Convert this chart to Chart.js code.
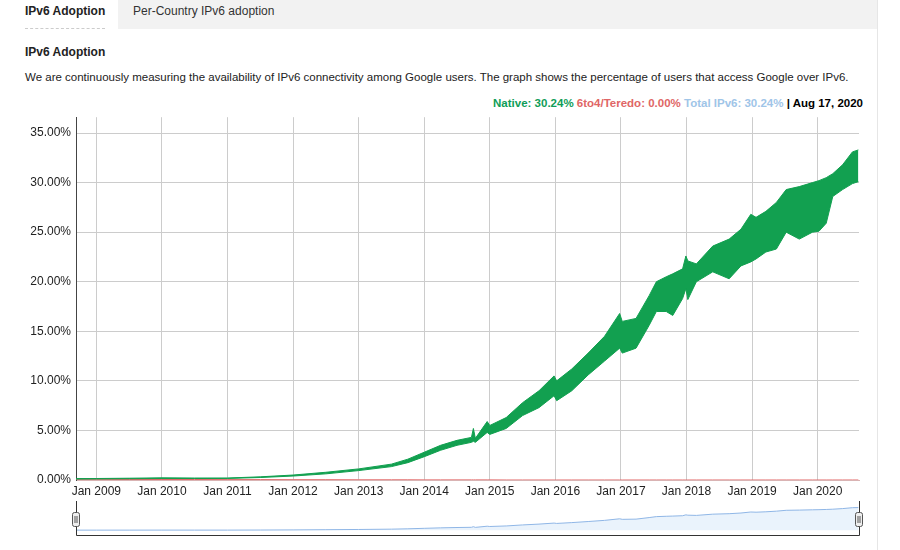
<!DOCTYPE html>
<html>
<head>
<meta charset="utf-8">
<title>IPv6 Adoption</title>
<script src="https://cdn.jsdelivr.net/npm/chart.js@4.4.1/dist/chart.umd.min.js"></script>
<style>
  body { margin: 0; background: #fff; font-family: "Liberation Sans", Arial, sans-serif; color: #333; }
  #page { position: relative; width: 900px; height: 550px; overflow: hidden; }
  #tabs { position: absolute; left: 0; top: 0; width: 877px; height: 29px; }
  #tabs .gray { position: absolute; left: 118px; top: 0; width: 759px; height: 29px; background: #f2f2f2; }
  .tab { position: absolute; top: 3px; font-size: 12px; line-height: 16px; }
  #tab1 { left: 25px; font-weight: bold; color: #222; }
  #tab1u { position: absolute; left: 25px; top: 28px; width: 80px; border-top: 1px dashed #ccc; }
  #tab2 { left: 133px; color: #333; }
  #rightBorder { position: absolute; left: 877px; top: 0; width: 1px; height: 550px; background: #e6e6e6; }
  #heading { position: absolute; left: 25px; top: 45px; font-size: 12px; font-weight: bold; color: #222; }
  #desc { position: absolute; left: 25px; top: 71px; font-size: 11.5px; color: #222; white-space: nowrap; }
  #legend { position: absolute; right: 37px; top: 97px; font-size: 11.5px; font-weight: bold; white-space: nowrap; }
  #mainWrap { position: absolute; left: 0; top: 105px; }
  #navWrap { position: absolute; left: 0; top: 498px; }
</style>
</head>
<body>
<div id="page">
  <div id="tabs"><div class="gray"></div></div>
  <div class="tab" id="tab1">IPv6 Adoption</div>
  <div id="tab1u"></div>
  <div class="tab" id="tab2">Per-Country IPv6 adoption</div>
  <div id="rightBorder"></div>
  <div id="heading">IPv6 Adoption</div>
  <div id="desc">We are continuously measuring the availability of IPv6 connectivity among Google users. The graph shows the percentage of users that access Google over IPv6.</div>
  <div id="legend"><span style="color:#0f9d58">Native: 30.24%</span> <span style="color:#e06666">6to4/Teredo: 0.00%</span> <span style="color:#9fc5e8">Total IPv6: 30.24%</span> <span style="color:#000">| Aug 17, 2020</span></div>
  <div id="mainWrap"><canvas id="mainChart" width="877" height="400"></canvas></div>
  <div id="navWrap"><canvas id="navChart" width="877" height="42"></canvas></div>
</div>
<script>
// dates as decimal years
const years = [2008.69, 2009.0, 2009.5, 2010.0, 2010.5, 2011.0, 2011.5, 2012.0, 2012.5, 2013.0,
  2013.5, 2013.75, 2014.0, 2014.25, 2014.5, 2014.72, 2014.75, 2014.78, 2014.96, 2015.0,
  2015.25, 2015.5, 2015.75, 2015.98, 2016.02, 2016.25, 2016.5, 2016.75, 2016.98, 2017.02,
  2017.23, 2017.43, 2017.54, 2017.69, 2017.79, 2017.94, 2017.99, 2018.02, 2018.15, 2018.4,
  2018.65, 2018.83, 2018.98, 2019.06, 2019.21, 2019.37, 2019.52, 2019.72, 2019.92, 2020.02,
  2020.13, 2020.23, 2020.38, 2020.53, 2020.62];
// top edge of the native band (weekend peaks), %
const nativeHigh = [0.14, 0.15, 0.18, 0.22, 0.2, 0.2, 0.32, 0.5, 0.78, 1.12,
  1.6, 2.1, 2.8, 3.5, 4.0, 4.3, 5.2, 4.2, 5.9, 5.5,
  6.3, 7.8, 9.0, 10.5, 10.0, 11.2, 12.8, 14.5, 16.8, 16.0,
  16.3, 18.6, 20.0, 20.5, 20.8, 21.3, 22.6, 22.1, 21.8, 23.6,
  24.3, 25.3, 26.8, 26.5, 27.1, 28.0, 29.3, 29.6, 30.0, 30.2,
  30.5, 30.9, 31.8, 33.1, 33.3];
// bottom edge of the native band (weekday lows), %
const nativeLow = [0.1, 0.11, 0.13, 0.15, 0.15, 0.16, 0.25, 0.4, 0.62, 0.95,
  1.35, 1.75, 2.35, 3.0, 3.5, 3.8, 3.9, 3.8, 4.8, 4.6,
  5.2, 6.5, 7.3, 8.5, 8.0, 9.0, 10.6, 12.0, 13.3, 12.8,
  13.3, 15.6, 17.0, 17.0, 16.6, 18.3, 19.3, 18.2, 20.0, 21.0,
  20.3, 21.6, 22.0, 22.3, 23.0, 23.3, 25.0, 24.3, 25.0, 25.1,
  25.9, 28.6, 29.3, 29.9, 30.1];
// 6to4/Teredo, %
const teredo = [0.06, 0.06, 0.05, 0.05, 0.05, 0.04, 0.04, 0.03, 0.03, 0.02,
  0.02, 0.02, 0.01, 0.01, 0.01, 0.01, 0.01, 0.01, 0.01, 0.01,
  0, 0, 0, 0, 0, 0, 0, 0, 0, 0,
  0, 0, 0, 0, 0, 0, 0, 0, 0, 0,
  0, 0, 0, 0, 0, 0, 0, 0, 0, 0,
  0, 0, 0, 0, 0];
const yearTicks = [2009, 2010, 2011, 2012, 2013, 2014, 2015, 2016, 2017, 2018, 2019, 2020];
const pctTicks = [0, 5, 10, 15, 20, 25, 30, 35];

const xMin = 2008.69;
const xMax = 2020.63;
const green = '#12a050';

function pts(arr) {
  return years.map(function(x, i) { return { x: x, y: arr[i] }; });
}

Chart.defaults.font.family = '"Liberation Sans", Arial, sans-serif';
Chart.defaults.font.size = 12;
Chart.defaults.color = '#222';

new Chart(document.getElementById('mainChart').getContext('2d'), {
  type: 'line',
  data: {
    datasets: [
      { label: 'low', data: pts(nativeLow), borderColor: green, borderWidth: 1, pointRadius: 0, fill: false },
      { label: 'Native', data: pts(nativeHigh), borderColor: green, backgroundColor: green, borderWidth: 1, pointRadius: 0, fill: '-1' },
      { label: '6to4/Teredo', data: pts(teredo), borderColor: '#e06666', borderWidth: 1, pointRadius: 0, fill: false }
    ]
  },
  options: {
    responsive: false,
    animation: false,
    layout: { padding: { top: 8, right: 18, left: 0, bottom: 0 } },
    plugins: { legend: { display: false }, tooltip: { enabled: false } },
    scales: {
      x: {
        type: 'linear',
        min: xMin,
        max: xMax,
        afterBuildTicks: function(axis) { axis.ticks = yearTicks.map(function(v) { return { value: v }; }); },
        afterFit: function(scale) { scale.height = 25; },
        ticks: {
          autoSkip: false, maxRotation: 0, padding: 4,
          callback: function(v) { return 'Jan ' + v; }
        },
        grid: { color: '#cccccc', drawTicks: false },
        border: { display: true, color: '#d9b3b3' }
      },
      y: {
        min: 0,
        max: 36.6,
        afterBuildTicks: function(axis) { axis.ticks = pctTicks.map(function(v) { return { value: v }; }); },
        afterFit: function(scale) { scale.width = 76; },
        ticks: {
          padding: 5,
          callback: function(v) { return v.toFixed(2) + '%'; }
        },
        grid: { color: '#cccccc', drawTicks: false },
        border: { display: true, color: '#444' }
      }
    }
  }
});

// range selector frame and handles
const navFrame = {
  id: 'navFrame',
  afterDraw: function(chart) {
    const ctx = chart.ctx;
    const a = chart.chartArea;
    ctx.save();
    ctx.strokeStyle = '#333';
    ctx.lineWidth = 1;
    ctx.beginPath();
    ctx.moveTo(a.left + 0.5, 3);
    ctx.lineTo(a.left + 0.5, a.bottom + 0.5);
    ctx.lineTo(a.right + 0.5, a.bottom + 0.5);
    ctx.lineTo(a.right + 0.5, 3);
    ctx.stroke();
    [a.left, a.right].forEach(function(x) {
      ctx.fillStyle = '#eee';
      ctx.strokeStyle = '#555';
      ctx.beginPath();
      ctx.roundRect(x - 3.5, 14.5, 7, 14, 2);
      ctx.fill();
      ctx.stroke();
      ctx.beginPath();
      ctx.moveTo(x - 1, 18); ctx.lineTo(x - 1, 25);
      ctx.moveTo(x + 1, 18); ctx.lineTo(x + 1, 25);
      ctx.stroke();
    });
    ctx.restore();
  }
};

new Chart(document.getElementById('navChart').getContext('2d'), {
  type: 'line',
  data: {
    datasets: [
      { label: 'Total IPv6', data: pts(nativeHigh), borderColor: '#8fb6e6', backgroundColor: '#eaf3fc', borderWidth: 1, pointRadius: 0, fill: 'origin' }
    ]
  },
  options: {
    responsive: false,
    animation: false,
    layout: { padding: { top: 5, right: 18, left: 76, bottom: 5 } },
    plugins: { legend: { display: false }, tooltip: { enabled: false } },
    scales: {
      x: { type: 'linear', min: xMin, max: xMax, display: false },
      y: { min: -7, max: 40, display: false }
    }
  },
  plugins: [navFrame]
});
</script>
</body>
</html>
